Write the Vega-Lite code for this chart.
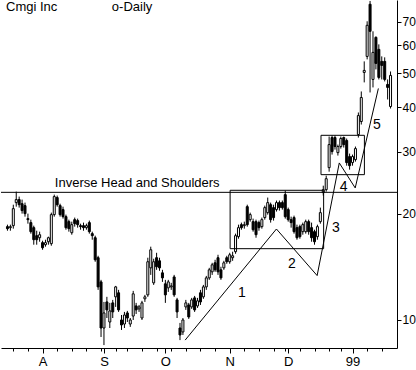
{
"$schema": "https://vega.github.io/schema/vega-lite/v6.json",
"width": 396, "height": 348, "padding": 0, "autosize": {"type": "pad"},
"background": "white",
"config": {"view": {"stroke": null}, "font": "Liberation Sans", "axis": {"grid": false, "domainColor": "black", "tickColor": "black", "labelColor": "black", "domainWidth": 1, "tickWidth": 1}},
"resolve": {"axis": {"x": "independent"}},
"datasets": {
"candles": [
{"i":0,"o":18.38,"h":18.62,"l":17.90,"c":18.14},
{"i":1,"o":18.26,"h":18.62,"l":17.90,"c":18.38},
{"i":2,"o":18.50,"h":21.21,"l":18.14,"c":20.67},
{"i":3,"o":21.50,"h":23.10,"l":20.94,"c":21.93},
{"i":4,"o":21.93,"h":22.36,"l":20.81,"c":21.21},
{"i":5,"o":21.35,"h":21.93,"l":20.01,"c":20.41},
{"i":6,"o":21.08,"h":21.50,"l":19.62,"c":20.01},
{"i":7,"o":19.37,"h":20.01,"l":18.74,"c":19.24},
{"i":8,"o":18.87,"h":19.24,"l":17.56,"c":17.79},
{"i":9,"o":18.26,"h":18.50,"l":16.34,"c":16.88},
{"i":10,"o":17.33,"h":17.90,"l":16.34,"c":16.88},
{"i":11,"o":17.10,"h":17.79,"l":16.66,"c":17.44},
{"i":12,"o":16.56,"h":16.77,"l":15.81,"c":16.02},
{"i":13,"o":16.34,"h":16.88,"l":16.13,"c":16.56},
{"i":14,"o":16.66,"h":17.22,"l":16.34,"c":17.10},
{"i":15,"o":16.45,"h":20.14,"l":16.23,"c":19.88},
{"i":16,"o":19.88,"h":22.65,"l":19.62,"c":22.36},
{"i":17,"o":22.22,"h":22.51,"l":20.94,"c":21.21},
{"i":18,"o":21.08,"h":21.35,"l":19.62,"c":19.88},
{"i":19,"o":20.54,"h":20.94,"l":19.37,"c":19.62},
{"i":20,"o":19.62,"h":19.88,"l":18.02,"c":18.26},
{"i":21,"o":18.99,"h":19.24,"l":17.79,"c":18.14},
{"i":22,"o":17.67,"h":18.99,"l":17.44,"c":18.62},
{"i":23,"o":19.24,"h":19.50,"l":18.38,"c":18.74},
{"i":24,"o":19.12,"h":19.37,"l":18.26,"c":18.62},
{"i":25,"o":18.50,"h":18.74,"l":18.02,"c":18.38},
{"i":26,"o":18.50,"h":18.87,"l":17.90,"c":18.26},
{"i":27,"o":18.26,"h":18.74,"l":18.02,"c":18.50},
{"i":28,"o":18.87,"h":19.12,"l":17.56,"c":17.79},
{"i":29,"o":17.56,"h":17.79,"l":16.88,"c":17.33},
{"i":30,"o":17.10,"h":17.33,"l":14.62,"c":14.81},
{"i":31,"o":15.01,"h":15.20,"l":12.17,"c":12.41},
{"i":32,"o":12.82,"h":12.99,"l":8.95,"c":9.49},
{"i":33,"o":9.49,"h":11.25,"l":8.49,"c":10.47},
{"i":34,"o":11.25,"h":11.63,"l":10.13,"c":10.68},
{"i":35,"o":9.87,"h":11.18,"l":9.49,"c":10.61},
{"i":36,"o":11.18,"h":11.40,"l":10.13,"c":10.54},
{"i":37,"o":11.63,"h":12.49,"l":10.89,"c":12.41},
{"i":38,"o":11.94,"h":12.17,"l":10.54,"c":10.68},
{"i":39,"o":10.00,"h":10.33,"l":9.37,"c":9.68},
{"i":40,"o":9.74,"h":10.54,"l":9.49,"c":10.33},
{"i":41,"o":10.47,"h":10.61,"l":9.87,"c":10.13},
{"i":42,"o":9.74,"h":10.13,"l":9.56,"c":10.00},
{"i":43,"o":10.26,"h":12.09,"l":10.00,"c":11.86},
{"i":44,"o":10.96,"h":11.18,"l":10.40,"c":10.68},
{"i":45,"o":10.75,"h":11.03,"l":10.54,"c":10.89},
{"i":46,"o":10.13,"h":11.33,"l":10.00,"c":11.18},
{"i":47,"o":11.48,"h":11.78,"l":11.25,"c":11.63},
{"i":48,"o":11.78,"h":15.01,"l":11.63,"c":14.62},
{"i":49,"o":14.05,"h":16.13,"l":13.42,"c":15.81},
{"i":50,"o":12.74,"h":14.91,"l":12.57,"c":14.62},
{"i":51,"o":15.01,"h":15.50,"l":13.87,"c":14.15},
{"i":52,"o":14.71,"h":15.01,"l":13.78,"c":14.05},
{"i":53,"o":13.60,"h":13.87,"l":12.82,"c":13.16},
{"i":54,"o":12.66,"h":12.99,"l":11.18,"c":11.78},
{"i":55,"o":12.33,"h":12.99,"l":12.01,"c":12.82},
{"i":56,"o":12.41,"h":12.74,"l":12.17,"c":12.49},
{"i":57,"o":13.24,"h":13.42,"l":11.63,"c":11.78},
{"i":58,"o":11.40,"h":11.55,"l":10.13,"c":10.54},
{"i":59,"o":9.49,"h":9.81,"l":8.77,"c":9.07},
{"i":60,"o":9.25,"h":10.13,"l":9.07,"c":10.00},
{"i":61,"o":10.89,"h":11.40,"l":10.68,"c":11.18},
{"i":62,"o":11.03,"h":11.18,"l":10.07,"c":10.20},
{"i":63,"o":10.89,"h":11.55,"l":10.75,"c":11.40},
{"i":64,"o":11.55,"h":11.70,"l":10.54,"c":10.68},
{"i":65,"o":10.96,"h":11.55,"l":10.82,"c":11.33},
{"i":66,"o":11.94,"h":12.17,"l":11.03,"c":11.25},
{"i":67,"o":11.63,"h":12.57,"l":11.48,"c":12.41},
{"i":68,"o":12.41,"h":13.33,"l":12.17,"c":13.16},
{"i":69,"o":13.16,"h":14.05,"l":12.99,"c":13.87},
{"i":70,"o":13.69,"h":14.52,"l":13.42,"c":14.33},
{"i":71,"o":14.52,"h":14.81,"l":13.69,"c":13.87},
{"i":72,"o":15.01,"h":15.30,"l":13.42,"c":13.69},
{"i":73,"o":13.87,"h":14.15,"l":12.99,"c":13.16},
{"i":74,"o":14.05,"h":14.71,"l":13.87,"c":14.52},
{"i":75,"o":15.01,"h":15.20,"l":14.43,"c":14.62},
{"i":76,"o":14.62,"h":15.50,"l":14.43,"c":15.30},
{"i":77,"o":15.01,"h":15.61,"l":14.71,"c":15.20},
{"i":78,"o":15.61,"h":17.56,"l":15.40,"c":17.33},
{"i":79,"o":17.22,"h":18.62,"l":16.99,"c":18.26},
{"i":80,"o":18.62,"h":18.87,"l":18.02,"c":18.26},
{"i":81,"o":18.50,"h":18.99,"l":18.14,"c":18.62},
{"i":82,"o":20.94,"h":21.21,"l":18.38,"c":18.62},
{"i":83,"o":19.24,"h":20.14,"l":18.99,"c":19.88},
{"i":84,"o":18.99,"h":19.37,"l":17.79,"c":18.02},
{"i":85,"o":18.99,"h":19.24,"l":17.10,"c":17.44},
{"i":86,"o":18.87,"h":19.12,"l":17.90,"c":18.26},
{"i":87,"o":18.38,"h":19.50,"l":18.14,"c":19.24},
{"i":88,"o":19.50,"h":21.08,"l":19.24,"c":20.81},
{"i":89,"o":20.14,"h":22.22,"l":19.88,"c":21.50},
{"i":90,"o":21.21,"h":21.50,"l":18.87,"c":19.24},
{"i":91,"o":20.81,"h":21.21,"l":19.12,"c":19.50},
{"i":92,"o":20.54,"h":21.79,"l":20.28,"c":21.50},
{"i":93,"o":21.50,"h":21.79,"l":20.41,"c":20.81},
{"i":94,"o":21.50,"h":21.79,"l":20.54,"c":20.81},
{"i":95,"o":22.65,"h":23.25,"l":19.37,"c":19.62},
{"i":96,"o":20.54,"h":20.81,"l":18.99,"c":19.24},
{"i":97,"o":19.24,"h":19.62,"l":18.26,"c":18.87},
{"i":98,"o":19.50,"h":19.75,"l":17.56,"c":17.79},
{"i":99,"o":18.26,"h":18.62,"l":16.88,"c":17.10},
{"i":100,"o":18.38,"h":18.62,"l":16.99,"c":17.22},
{"i":101,"o":17.79,"h":18.87,"l":17.44,"c":18.62},
{"i":102,"o":17.79,"h":19.24,"l":17.56,"c":18.99},
{"i":103,"o":18.99,"h":19.24,"l":17.44,"c":17.79},
{"i":104,"o":18.26,"h":18.87,"l":16.66,"c":17.10},
{"i":105,"o":17.79,"h":18.02,"l":16.34,"c":16.66},
{"i":106,"o":17.22,"h":18.62,"l":16.88,"c":18.38},
{"i":107,"o":18.99,"h":20.81,"l":18.74,"c":20.14},
{"i":108,"o":22.95,"h":24.01,"l":22.51,"c":23.40},
{"i":109,"o":23.40,"h":25.63,"l":23.10,"c":25.13},
{"i":110,"o":27.01,"h":33.08,"l":26.31,"c":31.39},
{"i":111,"o":32.86,"h":33.30,"l":29.41,"c":29.99},
{"i":112,"o":32.86,"h":33.30,"l":30.38,"c":30.99},
{"i":113,"o":29.79,"h":31.39,"l":29.22,"c":30.99},
{"i":114,"o":30.99,"h":33.08,"l":30.58,"c":32.65},
{"i":115,"o":32.86,"h":33.08,"l":30.79,"c":31.39},
{"i":116,"o":32.23,"h":32.65,"l":27.36,"c":27.91},
{"i":117,"o":29.03,"h":29.60,"l":26.66,"c":27.36},
{"i":118,"o":27.91,"h":29.41,"l":27.36,"c":29.03},
{"i":119,"o":28.46,"h":30.99,"l":28.09,"c":30.58},
{"i":120,"o":33.51,"h":38.70,"l":32.86,"c":37.93},
{"i":121,"o":36.49,"h":44.39,"l":35.78,"c":42.67},
{"i":122,"o":50.25,"h":54.01,"l":47.09,"c":50.92},
{"i":123,"o":55.78,"h":70.15,"l":54.72,"c":68.34},
{"i":124,"o":78.39,"h":80.10,"l":44.10,"c":65.71},
{"i":125,"o":48.01,"h":65.71,"l":45.57,"c":57.28},
{"i":126,"o":63.17,"h":63.59,"l":51.25,"c":53.31},
{"i":127,"o":58.41,"h":60.35,"l":48.01,"c":48.65},
{"i":128,"o":54.01,"h":55.80,"l":48.01,"c":52.61},
{"i":129,"o":54.01,"h":55.45,"l":47.39,"c":48.01},
{"i":130,"o":46.47,"h":48.01,"l":42.13,"c":45.57},
{"i":131,"o":40.23,"h":50.57,"l":39.72,"c":49.29}
],
"neck": [{"p": 22.99}],
"boxes": [{"i": 76.14, "i2": 108.12, "p": 15.92, "p2": 23.3}, {"i": 107.22, "i2": 122.06, "p": 25.8, "p2": 33.35}],
"zig": [{"k":0,"i":60.77,"p":8.77},{"k":1,"i":91.98,"p":18.1},{"k":2,"i":105.9,"p":13.36},{"k":3,"i":113.47,"p":27.85},{"k":4,"i":118.92,"p":23.66},{"k":5,"i":126.84,"p":45.27}],
"nums": [{"i":80.2,"p":11.94,"t":"1"},{"i":97.26,"p":14.38,"t":"2"},{"i":112.3,"p":18.26,"t":"3"},{"i":114.97,"p":23.86,"t":"4"},{"i":126.3,"p":35.78,"t":"5"}],
"notes": [{"i":16.2,"p":24.4,"t":"Inverse Head and Shoulders"},{"i":-0.5,"p":77.0,"t":"Cmgi Inc"},{"i":35.7,"p":77.0,"t":"o-Daily"}]
},
"layer": [
{"data": {"name": "candles"}, "mark": {"type": "rule", "color": "black", "strokeWidth": 1},
 "encoding": {
  "x": {"field": "i", "type": "quantitative", "title": null, "scale": {"domain": [-0.5, 131.5], "nice": false, "zero": false},
        "axis": {"orient": "bottom", "title": null, "values": [12,33,54,76,96,118],
                 "labelExpr": "datum.value==12?'A':datum.value==33?'S':datum.value==54?'O':datum.value==76?'N':datum.value==96?'D':'99'",
                 "labelOverlap": false, "labelFlush": false, "labelBound": false, "tickSize": 5, "labelPadding": 2, "labelFontSize": 13, "labelFont": "Liberation Sans"}},
  "y": {"field": "l", "type": "quantitative", "title": null, "scale": {"type": "log", "domain": [8.33, 80.6], "nice": false},
        "axis": {"orient": "right", "title": null, "values": [10,20,30,40,50,60,70], "format": "d", "tickSize": 4, "labelPadding": 1, "labelFontSize": 12, "labelFont": "Liberation Sans", "labelFlush": false, "labelOverlap": false}},
  "y2": {"field": "h"}
 }},
{"data": {"name": "candles"}, "mark": {"type": "bar", "width": 2, "stroke": "black", "strokeWidth": 1},
 "encoding": {
  "x": {"field": "i", "type": "quantitative", "title": null,
        "axis": {"orient": "bottom", "title": null, "values": [2,7,17,22,27,32,37,41,46,51,56,61,66,71,81,86,91,95,100,105,110,114,123,128], "labels": false, "domain": false, "tickSize": 3}},
  "y": {"field": "o", "type": "quantitative", "title": null},
  "y2": {"field": "c"},
  "fill": {"condition": {"test": "datum.c > datum.o", "value": "white"}, "value": "black"}
 }},
{"data": {"name": "neck"}, "mark": {"type": "rule", "color": "black", "strokeWidth": 1},
 "encoding": {"y": {"field": "p", "type": "quantitative", "title": null}}},
{"data": {"name": "boxes"}, "mark": {"type": "rect", "fillOpacity": 0, "stroke": "black", "strokeWidth": 1},
 "encoding": {
  "x": {"field": "i", "type": "quantitative", "title": null, "axis": null}, "x2": {"field": "i2"},
  "y": {"field": "p", "type": "quantitative", "title": null}, "y2": {"field": "p2"}
 }},
{"data": {"name": "zig"}, "mark": {"type": "line", "color": "black", "strokeWidth": 1},
 "encoding": {
  "x": {"field": "i", "type": "quantitative", "title": null, "axis": null},
  "y": {"field": "p", "type": "quantitative", "title": null},
  "order": {"field": "k"}
 }},
{"data": {"name": "nums"}, "mark": {"type": "text", "font": "Liberation Sans", "fontSize": 14, "color": "black", "align": "center", "baseline": "middle"},
 "encoding": {
  "x": {"field": "i", "type": "quantitative", "title": null, "axis": null},
  "y": {"field": "p", "type": "quantitative", "title": null},
  "text": {"field": "t"}
 }},
{"data": {"name": "notes"}, "mark": {"type": "text", "font": "Liberation Sans", "fontSize": 13, "color": "black", "align": "left", "baseline": "middle"},
 "encoding": {
  "x": {"field": "i", "type": "quantitative", "title": null, "axis": null},
  "y": {"field": "p", "type": "quantitative", "title": null},
  "text": {"field": "t"}
 }}
]
}
